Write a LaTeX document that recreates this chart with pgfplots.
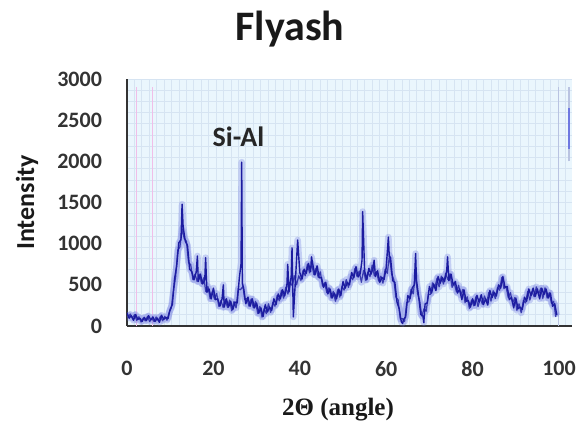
\documentclass[border=0pt]{standalone}
\usepackage{fontspec}
\setmainfont{Carlito}
\newfontfamily\labelserif{Liberation Serif}
\usepackage{pgfplots}
\usepackage{pgfplotstable}
\pgfplotsset{compat=1.18}

\definecolor{plotbg}{RGB}{234,246,253}
\definecolor{gridc}{RGB}{214,228,242}
\definecolor{spec}{RGB}{28,28,160}
\definecolor{halo}{RGB}{110,120,225}
\definecolor{pinkline}{RGB}{240,190,232}
\definecolor{greyline}{RGB}{185,195,225}

% XRD pattern (2theta, counts): scan points
\pgfplotstableread{
x y
0 160
0.5 95
1 125
1.5 70
2 140
2.5 80
3 95
3.5 55
4 105
4.5 65
5 125
5.5 75
6 110
6.5 55
7 95
7.5 45
8 130
8.5 80
9 105
9.5 90
10 205
10.5 260
11 570
11.5 730
12 1010
12.5 1050
12.75 1480
13 1200
13.5 1030
14 980
14.5 690
15 660
15.5 560
16 650
16.3 850
16.5 540
17 630
17.5 510
18 560
18.2 830
18.5 410
19 450
19.5 330
20 460
20.5 320
21 330
21.5 240
22 330
22.3 500
22.5 230
23 330
23.5 230
24 300
24.5 200
25 290
25.5 280
26 580
26.4 760
26.55 1990
26.7 520
27 460
27.5 270
28 350
28.5 240
29 330
29.5 220
30 280
30.5 155
31 220
31.5 115
32 260
32.5 170
33 230
33.5 190
34 330
34.5 260
35 390
35.5 330
36 440
36.5 365
37 480
37.2 750
37.5 415
38 600
38.2 950
38.5 110
39 570
39.5 1045
40 650
40.5 570
41 690
41.5 640
42 760
42.5 660
42.7 840
43 750
43.5 620
44 730
44.5 585
45 590
45.5 470
46 530
46.5 390
47 450
47.5 340
48 400
48.5 330
49 450
49.5 370
50 540
50.5 460
51 530
51.5 500
52 650
52.5 585
53 720
53.5 595
54 640
54.4 800
54.55 1390
55 670
55.5 560
56 700
56.5 630
57 710
57.2 800
57.5 600
58 670
58.5 530
59 590
59.5 565
60 710
60.5 1080
60.7 850
61 830
61.5 550
62 530
62.5 290
63 210
63.5 50
63.8 30
64 80
64.5 110
65 370
65.5 330
66 460
66.5 500
66.8 880
67 560
67.5 360
68 140
68.5 120
68.7 40
69 270
69.5 280
70 480
70.5 400
71 510
71.5 430
72 600
72.5 520
73 590
73.5 540
74 670
74.2 840
74.5 550
75 630
75.5 500
76 540
76.5 400
77 450
77.5 320
78 440
78.5 300
79 310
79.5 230
80 330
80.5 250
81 370
81.5 290
82 380
82.5 260
83 330
83.5 255
84 430
84.5 345
85 410
85.5 365
86 500
86.5 460
87 600
87.5 470
88 480
88.5 320
89 350
89.5 220
90 340
90.5 210
91 230
91.5 200
92 350
92.5 300
93 450
93.5 370
94 460
94.5 360
95 450
95.5 330
96 460
96.5 380
97 450
97.5 340
98 400
98.5 240
99 270
99.5 130
}\xrda

% in-between scan points (the fuzz of the band)
\pgfplotstableread{
x y
0.25 100
0.75 145
1.25 93
1.75 137
2.25 68
2.75 112
3.25 48
3.75 97
4.25 62
4.75 118
5.25 53
5.75 92
6.25 55
6.75 110
7.25 65
7.75 120
8.25 62
8.75 118
9.25 70
9.75 165
10.25 220
10.75 430
11.25 590
11.75 920
12.25 960
12.75 1180
13.25 1060
13.75 1030
14.25 770
14.75 745
15.25 565
15.75 630
16.25 540
16.75 630
17.25 515
17.75 585
18.25 420
18.75 480
19.25 330
19.75 420
20.25 325
20.75 395
21.25 240
21.75 310
22.25 225
22.75 325
23.25 225
23.75 315
24.25 185
24.75 295
25.25 220
25.75 450
26.25 440
26.85 480
27.25 320
27.75 335
28.25 240
28.75 330
29.25 220
29.75 300
30.25 152
30.75 238
31.25 108
31.75 212
32.25 150
32.75 270
33.25 165
33.75 285
34.25 240
34.75 370
35.25 305
35.75 435
36.25 338
36.75 472
37.25 388
37.75 532
38.25 490
38.75 610
39.25 500
39.75 610
40.25 555
40.75 675
41.25 610
41.75 750
42.25 645
42.75 755
43.25 625
43.75 700
44.25 592
44.75 658
45.25 485
45.75 525
46.25 405
46.75 465
47.25 340
47.75 420
48.25 300
48.75 440
49.25 350
49.75 480
50.25 435
50.75 565
51.25 470
51.75 600
52.25 562
52.75 698
53.25 602
53.75 668
54.25 530
54.75 675
55.25 555
55.75 655
56.25 600
56.75 740
57.25 610
57.75 660
58.25 545
58.75 605
59.25 520
59.75 688
60.25 640
60.75 860
61.25 630
61.75 565
62.25 345
62.75 320
63.25 85
63.75 90
64.25 55
64.75 285
65.25 295
65.75 445
66.25 390
66.75 620
67.25 395
67.75 305
68.25 120
68.75 210
69.25 180
69.75 380
70.25 385
70.75 525
71.25 460
71.75 580
72.25 475
72.75 605
73.25 510
73.75 640
74.25 565
74.75 635
75.25 470
75.75 520
76.25 415
76.75 495
77.25 375
77.75 445
78.25 285
78.75 355
79.25 215
79.75 315
80.25 245
80.75 355
81.25 235
81.75 335
82.25 265
82.75 365
83.25 282
83.75 408
84.25 302
84.75 428
85.25 332
85.75 468
86.25 435
86.75 590
87.25 455
87.75 475
88.25 345
88.75 405
89.25 275
89.75 345
90.25 190
90.75 270
91.25 160
91.75 310
92.25 280
92.75 420
93.25 315
93.75 415
94.25 355
94.75 475
95.25 380
95.75 460
96.25 335
96.75 465
97.25 340
97.75 405
98.25 275
98.75 300
99.25 110
}\xrdb

\begin{document}
\begin{tikzpicture}
\begin{axis}[
    scale only axis,
    width=222.5pt, height=123.5pt,
    xmin=0, xmax=103, ymin=0, ymax=3000,
    axis lines=left,
    axis line style={-, line width=0.9pt, black!80},
    axis background/.style={fill=plotbg},
    xtick={0,20,...,100},
    ytick={0,500,...,3000},
    minor xtick={0,1.72,...,103},
    minor ytick={0,136.4,...,3000},
    grid=minor,
    minor grid style={gridc, line width=0.4pt},
    major tick length=0pt, minor tick length=0pt,
    /pgf/number format/assume math mode=true,
    /pgf/number format/1000 sep={},
    ticklabel style={font=\bfseries\fontsize{11}{13}\selectfont, text=black!80},
    xticklabel style={yshift=-14pt},
    yticklabel style={xshift=-9pt},
]
% marker lines of the original figure
\addplot[pinkline, line width=0.5pt] coordinates {(2.3,0) (2.3,2900)};
\addplot[pinkline, line width=0.5pt] coordinates {(5.8,0) (5.8,2900)};
\addplot[greyline, line width=0.6pt] coordinates {(99.8,0) (99.8,2900)};
\addplot[greyline, line width=0.6pt] coordinates {(102.3,2000) (102.3,2900)};
\addplot[halo, line width=0.8pt] coordinates {(102.3,2150) (102.3,2650)};
% spectrum: soft halo, then the two interleaved traces
\addplot[halo, line width=3.3pt, opacity=0.3, line join=round] table {\xrdb};
\addplot[halo, line width=3.3pt, opacity=0.3, line join=round] table {\xrda};
\addplot[spec, line width=0.6pt, opacity=0.8, line join=round] table {\xrdb};
\addplot[spec, line width=0.7pt, line join=round] table {\xrda};
\node[font=\bfseries\fontsize{14}{16}\selectfont, text=black!85] at (axis cs:25.8,2300) {Si-Al};
\end{axis}
\node[font=\bfseries\fontsize{21}{25}\selectfont, text=black!90]
    at ([xshift=81.5pt,yshift=25pt]current axis.north west) {Flyash};
\node[rotate=90, font=\bfseries\fontsize{13}{15}\selectfont, text=black!90]
    at ([xshift=-50pt]current axis.west) {Intensity};
\node[font=\labelserif\bfseries\fontsize{12.5}{15}\selectfont, text=black!90]
    at ([xshift=105.5pt,yshift=-42pt]current axis.south west) {2Θ (angle)};
\path ([xshift=-63.5pt,yshift=-50pt]current axis.south west)
    rectangle ([xshift=6.5pt,yshift=39.5pt]current axis.north east);
\end{tikzpicture}
\end{document}
